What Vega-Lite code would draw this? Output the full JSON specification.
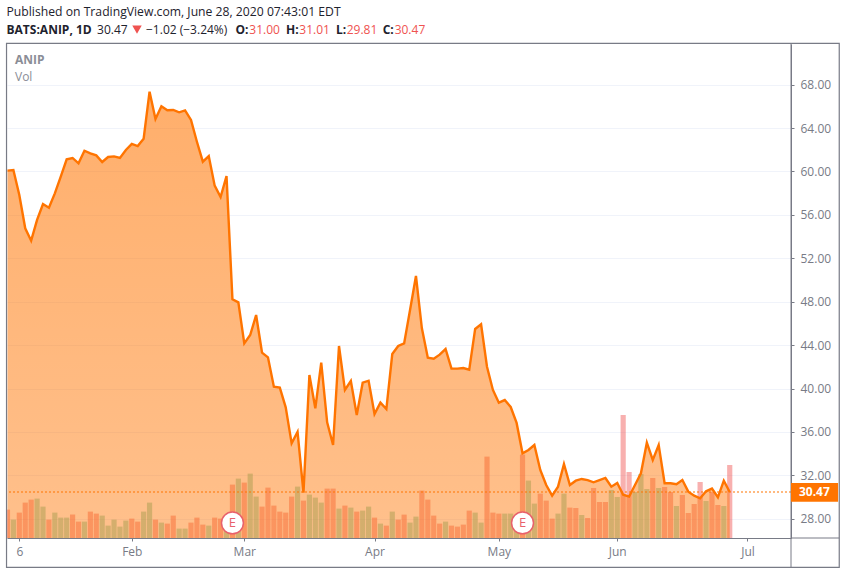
{"$schema":"https://vega.github.io/schema/vega-lite/v6.json","width":784,"height":494,"autosize":"none","padding":{"left":7,"top":44,"right":55,"bottom":36},"background":"white","config":{"view":{"stroke":null},"text":{"font":"Open Sans"}},
"datasets":{"bars":[
{"bar":0,"price":60.07,"vol":142,"dir":"down"},{"bar":1,"price":60.13,"vol":92,"dir":"up"},{"bar":2,"price":57.83,"vol":127,"dir":"down"},{"bar":3,"price":54.76,"vol":177,"dir":"down"},{"bar":4,"price":53.62,"vol":192,"dir":"down"},{"bar":5,"price":55.53,"vol":197,"dir":"up"},{"bar":6,"price":57.0,"vol":157,"dir":"up"},{"bar":7,"price":56.66,"vol":92,"dir":"down"},{"bar":8,"price":57.98,"vol":127,"dir":"up"},{"bar":9,"price":59.52,"vol":102,"dir":"up"},
{"bar":10,"price":61.12,"vol":102,"dir":"up"},{"bar":11,"price":61.24,"vol":117,"dir":"down"},{"bar":12,"price":60.75,"vol":82,"dir":"down"},{"bar":13,"price":61.91,"vol":82,"dir":"up"},{"bar":14,"price":61.67,"vol":132,"dir":"down"},{"bar":15,"price":61.48,"vol":122,"dir":"down"},{"bar":16,"price":60.87,"vol":112,"dir":"up"},{"bar":17,"price":61.33,"vol":62,"dir":"up"},{"bar":18,"price":61.39,"vol":92,"dir":"up"},{"bar":19,"price":61.24,"vol":57,"dir":"up"},
{"bar":20,"price":61.98,"vol":87,"dir":"up"},{"bar":21,"price":62.53,"vol":97,"dir":"down"},{"bar":22,"price":62.34,"vol":82,"dir":"down"},{"bar":23,"price":63.02,"vol":132,"dir":"up"},{"bar":24,"price":67.35,"vol":177,"dir":"up"},{"bar":25,"price":64.83,"vol":92,"dir":"down"},{"bar":26,"price":66.0,"vol":77,"dir":"up"},{"bar":27,"price":65.63,"vol":72,"dir":"down"},{"bar":28,"price":65.66,"vol":112,"dir":"down"},{"bar":29,"price":65.45,"vol":47,"dir":"up"},
{"bar":30,"price":65.63,"vol":47,"dir":"up"},{"bar":31,"price":64.74,"vol":77,"dir":"down"},{"bar":32,"price":62.74,"vol":102,"dir":"down"},{"bar":33,"price":60.9,"vol":67,"dir":"down"},{"bar":34,"price":61.42,"vol":62,"dir":"up"},{"bar":35,"price":58.69,"vol":102,"dir":"down"},{"bar":36,"price":57.64,"vol":97,"dir":"down"},{"bar":37,"price":59.58,"vol":112,"dir":"up"},{"bar":38,"price":48.22,"vol":267,"dir":"down"},{"bar":39,"price":47.94,"vol":297,"dir":"up"},
{"bar":40,"price":44.16,"vol":277,"dir":"down"},{"bar":41,"price":44.93,"vol":322,"dir":"up"},{"bar":42,"price":46.77,"vol":207,"dir":"up"},{"bar":43,"price":43.3,"vol":157,"dir":"down"},{"bar":44,"price":42.87,"vol":252,"dir":"down"},{"bar":45,"price":40.17,"vol":162,"dir":"down"},{"bar":46,"price":40.08,"vol":132,"dir":"down"},{"bar":47,"price":38.27,"vol":127,"dir":"down"},{"bar":48,"price":34.95,"vol":207,"dir":"down"},{"bar":49,"price":36.0,"vol":257,"dir":"up"},
{"bar":50,"price":30.41,"vol":187,"dir":"down"},{"bar":51,"price":41.25,"vol":217,"dir":"up"},{"bar":52,"price":38.18,"vol":202,"dir":"up"},{"bar":53,"price":42.38,"vol":177,"dir":"up"},{"bar":54,"price":36.89,"vol":247,"dir":"down"},{"bar":55,"price":34.8,"vol":247,"dir":"down"},{"bar":56,"price":43.92,"vol":147,"dir":"up"},{"bar":57,"price":39.87,"vol":162,"dir":"down"},{"bar":58,"price":40.69,"vol":152,"dir":"up"},{"bar":59,"price":37.56,"vol":132,"dir":"down"},
{"bar":60,"price":40.54,"vol":137,"dir":"up"},{"bar":61,"price":40.72,"vol":157,"dir":"up"},{"bar":62,"price":37.65,"vol":102,"dir":"down"},{"bar":63,"price":38.7,"vol":72,"dir":"up"},{"bar":64,"price":38.11,"vol":62,"dir":"down"},{"bar":65,"price":43.18,"vol":132,"dir":"up"},{"bar":66,"price":43.92,"vol":92,"dir":"down"},{"bar":67,"price":44.16,"vol":117,"dir":"down"},{"bar":68,"price":47.24,"vol":77,"dir":"up"},{"bar":69,"price":50.37,"vol":107,"dir":"up"},
{"bar":70,"price":45.55,"vol":237,"dir":"down"},{"bar":71,"price":42.84,"vol":192,"dir":"down"},{"bar":72,"price":42.75,"vol":112,"dir":"down"},{"bar":73,"price":43.12,"vol":72,"dir":"down"},{"bar":74,"price":43.64,"vol":82,"dir":"up"},{"bar":75,"price":41.83,"vol":62,"dir":"down"},{"bar":76,"price":41.83,"vol":57,"dir":"down"},{"bar":77,"price":41.89,"vol":67,"dir":"down"},{"bar":78,"price":41.74,"vol":137,"dir":"down"},{"bar":79,"price":45.49,"vol":127,"dir":"up"},
{"bar":80,"price":45.92,"vol":77,"dir":"up"},{"bar":81,"price":42.01,"vol":407,"dir":"down"},{"bar":82,"price":39.87,"vol":127,"dir":"down"},{"bar":83,"price":38.7,"vol":122,"dir":"down"},{"bar":84,"price":38.94,"vol":122,"dir":"up"},{"bar":85,"price":38.3,"vol":122,"dir":"up"},{"bar":86,"price":36.83,"vol":110,"dir":"up"},{"bar":87,"price":34.03,"vol":417,"dir":"down"},{"bar":88,"price":34.34,"vol":287,"dir":"up"},{"bar":89,"price":34.8,"vol":172,"dir":"up"},
{"bar":90,"price":32.5,"vol":222,"dir":"down"},{"bar":91,"price":31.11,"vol":187,"dir":"down"},{"bar":92,"price":30.13,"vol":97,"dir":"down"},{"bar":93,"price":30.96,"vol":122,"dir":"up"},{"bar":94,"price":33.05,"vol":222,"dir":"up"},{"bar":95,"price":31.11,"vol":152,"dir":"down"},{"bar":96,"price":31.51,"vol":150,"dir":"down"},{"bar":97,"price":31.67,"vol":115,"dir":"up"},{"bar":98,"price":31.57,"vol":100,"dir":"down"},{"bar":99,"price":31.36,"vol":250,"dir":"down"},
{"bar":100,"price":31.57,"vol":180,"dir":"down"},{"bar":101,"price":31.76,"vol":180,"dir":"down"},{"bar":102,"price":30.96,"vol":240,"dir":"up"},{"bar":103,"price":31.3,"vol":205,"dir":"up"},{"bar":104,"price":30.22,"vol":615,"dir":"down"},{"bar":105,"price":30.04,"vol":330,"dir":"down"},{"bar":106,"price":31.11,"vol":230,"dir":"up"},{"bar":107,"price":32.19,"vol":320,"dir":"up"},{"bar":108,"price":35.01,"vol":245,"dir":"up"},{"bar":109,"price":33.42,"vol":300,"dir":"down"},
{"bar":110,"price":34.8,"vol":250,"dir":"up"},{"bar":111,"price":31.27,"vol":255,"dir":"down"},{"bar":112,"price":31.27,"vol":230,"dir":"down"},{"bar":113,"price":31.18,"vol":160,"dir":"up"},{"bar":114,"price":31.57,"vol":215,"dir":"down"},{"bar":115,"price":30.5,"vol":125,"dir":"down"},{"bar":116,"price":30.13,"vol":170,"dir":"down"},{"bar":117,"price":29.89,"vol":280,"dir":"down"},{"bar":118,"price":30.53,"vol":185,"dir":"up"},{"bar":119,"price":30.78,"vol":230,"dir":"down"},
{"bar":120,"price":29.98,"vol":165,"dir":"down"},{"bar":121,"price":31.51,"vol":160,"dir":"up"},{"bar":122,"price":30.47,"vol":365,"dir":"down"}]},
"resolve":{"scale":{"y":"independent"}},
"layer":[
{"data":{"name":"bars"},"mark":{"type":"bar","size":5.2,"clip":true},"encoding":{
"x":{"field":"bar","type":"quantitative","scale":{"domain":[-0.08,132.35],"nice":false,"zero":false,"padding":0},"axis":{"title":null,"values":[2,21,40,62,83,103,125],"labelExpr":"{'2':'6','21':'Feb','40':'Mar','62':'Apr','83':'May','103':'Jun','125':'Jul'}[''+datum.value]","grid":false,"domainColor":"#787b86","tickColor":"#787b86","tickSize":3,"labelColor":"#787b86","labelFont":"Open Sans","labelFontSize":12,"labelPadding":5}},
"y":{"field":"vol","type":"quantitative","scale":{"domain":[0,2470],"nice":false},"axis":null},
"y2":{"datum":0},
"color":{"field":"dir","type":"nominal","scale":{"domain":["up","down"],"range":["#53b987","#ef5350"]},"legend":null},"opacity":{"value":0.46}}},
{"layer":[
{"data":{"name":"bars"},"mark":{"type":"area","clip":true,"color":{"gradient":"linear","x1":0,"y1":0,"x2":0,"y2":1,"stops":[{"offset":0,"color":"rgba(255,116,0,0.58)"},{"offset":1,"color":"rgba(255,116,0,0.45)"}]}},"encoding":{
"x":{"field":"bar","type":"quantitative"},
"y":{"field":"price","type":"quantitative","scale":{"domain":[26.23,71.74],"nice":false,"zero":false},"axis":{"orient":"right","title":null,"values":[28,32,36,40,44,48,52,56,60,64,68],"format":".2f","grid":true,"gridColor":"#f0f3fa","domainColor":"#787b86","tickColor":"#787b86","tickSize":3,"labelColor":"#787b86","labelFont":"Open Sans","labelFontSize":12,"labelPadding":6}},
"y2":{"datum":26.23}}},
{"data":{"name":"bars"},"mark":{"type":"line","color":"#ff7400","strokeWidth":2.4,"clip":true},"encoding":{"x":{"field":"bar","type":"quantitative"},"y":{"field":"price","type":"quantitative"}}},
{"data":{"values":[{}]},"mark":{"type":"rule","color":"#ff7400","strokeDash":[2,2],"strokeWidth":1.2},"encoding":{"y":{"datum":30.47}}},
{"data":{"values":[{}]},"mark":{"type":"rect","filled":false,"stroke":"#787b86","strokeWidth":1.2,"clip":false},"encoding":{"x":{"datum":-0.16},"x2":{"datum":140.5},"y":{"datum":71.79},"y2":{"datum":23.53}}},
{"data":{"values":[{}]},"mark":{"type":"rule","color":"#787b86","strokeWidth":1,"clip":false},"encoding":{"x":{"datum":132.35},"y":{"datum":71.79},"y2":{"datum":23.53}}},
{"data":{"values":[{}]},"mark":{"type":"rule","color":"#787b86","strokeWidth":1,"clip":false},"encoding":{"x":{"datum":132.35},"x2":{"datum":140.5},"y":{"datum":26.23}}},
{"data":{"values":[{}]},"mark":{"type":"rect","color":"#ff7400","clip":false},"encoding":{"x":{"datum":132.35},"x2":{"datum":140.3},"y":{"datum":31.3},"y2":{"datum":29.58}}},
{"data":{"values":[{}]},"mark":{"type":"text","text":"30.47","color":"white","fontWeight":"bold","fontSize":12,"align":"center","baseline":"middle"},"encoding":{"x":{"datum":136.3},"y":{"datum":30.47}}},
{"data":{"values":[{"bar":38},{"bar":87}]},"mark":{"type":"point","shape":"circle","filled":true,"fill":"white","stroke":"#e8616b","strokeWidth":1.5,"opacity":1,"size":480,"clip":false},"encoding":{"x":{"field":"bar","type":"quantitative"},"y":{"datum":27.62}}},
{"data":{"values":[{"bar":38},{"bar":87}]},"mark":{"type":"text","text":"E","color":"#e8616b","fontSize":13,"align":"center","baseline":"middle"},"encoding":{"x":{"field":"bar","type":"quantitative"},"y":{"datum":27.65}}},
{"data":{"values":[{}]},"mark":{"type":"text","text":"ANIP","color":"#8a8d96","fontWeight":"bold","fontSize":12,"align":"left","baseline":"middle"},"encoding":{"x":{"datum":1.27},"y":{"datum":70.27}}},
{"data":{"values":[{}]},"mark":{"type":"text","text":"Vol","color":"#8a8d96","fontSize":12,"align":"left","baseline":"middle"},"encoding":{"x":{"datum":1.27},"y":{"datum":68.7}}},
{"data":{"values":[{}]},"mark":{"type":"text","text":"Published on TradingView.com, June 28, 2020 07:43:01 EDT","color":"#1e222d","fontSize":12.2,"align":"left","baseline":"middle","clip":false},"encoding":{"x":{"datum":-0.16},"y":{"datum":74.65}}},
{"data":{"values":[{}]},"mark":{"type":"text","text":"BATS:ANIP, 1D","color":"#1e222d","fontWeight":"bold","fontSize":12,"align":"left","baseline":"middle"},"encoding":{"x":{"datum":-0.16},"y":{"datum":73.07}}},
{"data":{"values":[{}]},"mark":{"type":"text","text":"30.47","color":"#1e222d","fontSize":12,"align":"left","baseline":"middle"},"encoding":{"x":{"datum":15.13},"y":{"datum":73.07}}},
{"data":{"values":[{}]},"mark":{"type":"point","shape":"triangle-down","filled":true,"color":"#ef5350","opacity":1,"size":90},"encoding":{"x":{"datum":21.88},"y":{"datum":73.07}}},
{"data":{"values":[{}]},"mark":{"type":"text","text":"−1.02 (−3.24%)","color":"#1e222d","fontSize":12,"align":"left","baseline":"middle"},"encoding":{"x":{"datum":23.4},"y":{"datum":73.07}}},
{"data":{"values":[{}]},"mark":{"type":"text","text":"O:","color":"#1e222d","fontWeight":"bold","fontSize":12,"align":"left","baseline":"middle"},"encoding":{"x":{"datum":38.5},"y":{"datum":73.07}}},
{"data":{"values":[{}]},"mark":{"type":"text","text":"31.00","color":"#ef5350","fontSize":12,"align":"left","baseline":"middle"},"encoding":{"x":{"datum":40.85},"y":{"datum":73.07}}},
{"data":{"values":[{}]},"mark":{"type":"text","text":"H:","color":"#1e222d","fontWeight":"bold","fontSize":12,"align":"left","baseline":"middle"},"encoding":{"x":{"datum":47.05},"y":{"datum":73.07}}},
{"data":{"values":[{}]},"mark":{"type":"text","text":"31.01","color":"#ef5350","fontSize":12,"align":"left","baseline":"middle"},"encoding":{"x":{"datum":49.3},"y":{"datum":73.07}}},
{"data":{"values":[{}]},"mark":{"type":"text","text":"L:","color":"#1e222d","fontWeight":"bold","fontSize":12,"align":"left","baseline":"middle"},"encoding":{"x":{"datum":55.5},"y":{"datum":73.07}}},
{"data":{"values":[{}]},"mark":{"type":"text","text":"29.81","color":"#ef5350","fontSize":12,"align":"left","baseline":"middle"},"encoding":{"x":{"datum":57.3},"y":{"datum":73.07}}},
{"data":{"values":[{}]},"mark":{"type":"text","text":"C:","color":"#1e222d","fontWeight":"bold","fontSize":12,"align":"left","baseline":"middle"},"encoding":{"x":{"datum":63.38},"y":{"datum":73.07}}},
{"data":{"values":[{}]},"mark":{"type":"text","text":"30.47","color":"#ef5350","fontSize":12,"align":"left","baseline":"middle"},"encoding":{"x":{"datum":65.4},"y":{"datum":73.07}}}
]}
]}
